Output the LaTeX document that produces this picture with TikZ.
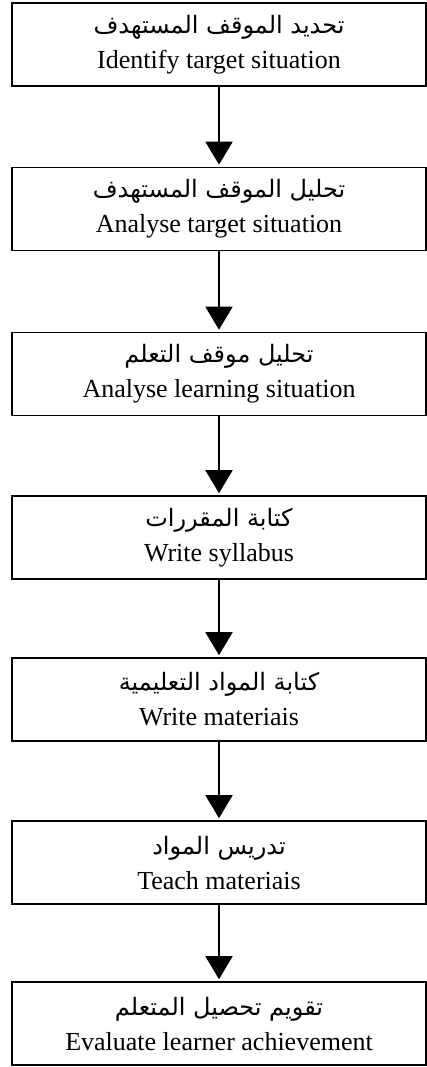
\documentclass[tikz,border=0pt]{standalone}
\usepackage{fontspec}
\setmainfont{Liberation Serif}
\newfontfamily\arabicfont[Script=Arabic]{DejaVu Sans}
\TeXXeTstate=1
\usetikzlibrary{arrows.meta}
\newcommand{\ar}[1]{{\fontsize{24}{35}\arabicfont\beginR #1\endR}}
\tikzset{
  stagebox/.style={draw=black, line width=1.6pt, minimum width=414pt, minimum height=83pt,
    inner sep=0pt, align=center, font={\fontsize{26}{35}\selectfont}},
  flowarrow/.style={line width=1.8pt, -{Triangle[width=27pt,length=23pt]}, shorten >=2pt}
}
\begin{document}
\begin{tikzpicture}[x=1pt,y=1pt]
\useasboundingbox (0,0) rectangle (427,-1067);
\node[stagebox] (s1) at (219,-44.5) {\ar{تحديد الموقف المستهدف}\\Identify target situation};
\node[stagebox] (s2) at (219,-209) {\ar{تحليل الموقف المستهدف}\\Analyse target situation};
\node[stagebox] (s3) at (219,-374) {\ar{تحليل موقف التعلم}\\Analyse learning situation};
\node[stagebox] (s4) at (219,-537.5) {\ar{كتابة المقررات}\\Write syllabus};
\node[stagebox] (s5) at (219,-699.5) {\ar{كتابة المواد التعليمية}\\Write materiais};
\node[stagebox] (s6) at (219,-862.5) {\ar{تدريس المواد}\\Teach materiais};
\node[stagebox] (s7) at (219,-1023.5) {\ar{تقويم تحصيل المتعلم}\\Evaluate learner achievement};
\draw[flowarrow] (s1.south) -- (s2.north);
\draw[flowarrow] (s2.south) -- (s3.north);
\draw[flowarrow] (s3.south) -- (s4.north);
\draw[flowarrow] (s4.south) -- (s5.north);
\draw[flowarrow] (s5.south) -- (s6.north);
\draw[flowarrow] (s6.south) -- (s7.north);
\end{tikzpicture}
\end{document}
